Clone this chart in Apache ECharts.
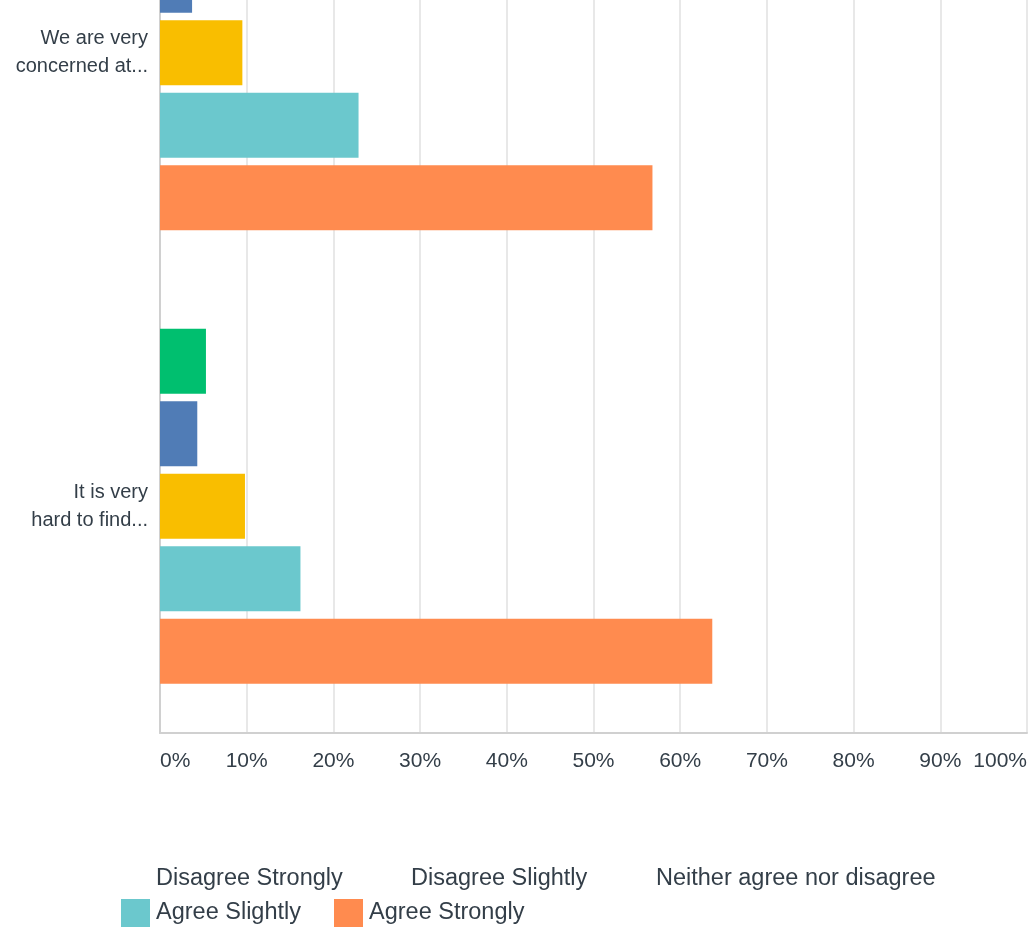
<!DOCTYPE html>
<html>
<head>
<meta charset="utf-8">
<script src="https://cdn.jsdelivr.net/npm/echarts@6/dist/echarts.min.js"></script>
<style>
  html, body { margin: 0; padding: 0; background: #fff; }
  #chart { width: 1029px; height: 928px; }
</style>
</head>
<body>
<div id="chart"></div>
<script>
// Survey statements (top to bottom)
const categories = ['We are very\nconcerned at...', 'It is very\nhard to find...'];

// Percentage of respondents per answer, one value per statement
const disagreeStrongly = [7.1, 5.3];
const disagreeSlightly = [3.7, 4.3];
const neitherAgree     = [9.5, 9.8];
const agreeSlightly    = [22.9, 16.2];
const agreeStrongly    = [56.8, 63.7];

const seriesNames = ['Disagree Strongly', 'Disagree Slightly', 'Neither agree nor disagree', 'Agree Slightly', 'Agree Strongly'];
const seriesValues = [disagreeStrongly, disagreeSlightly, neitherAgree, agreeSlightly, agreeStrongly];
const seriesColors = ['#00BF6F', '#507CB6', '#F9BE00', '#6BC8CD', '#FF8B4F'];

const xTicks = [0, 10, 20, 30, 40, 50, 60, 70, 80, 90, 100];

const textColor = '#333e48';
const fontFamily = '"Liberation Sans", Arial, Helvetica, sans-serif';

// Legend placement: the three disagree/neutral entries have no swatch, the agree entries do
const legendSlots = [
  { left: 121, top: 865, swatch: false },
  { left: 376, top: 865, swatch: false },
  { left: 621, top: 865, swatch: false },
  { left: 121, top: 899, swatch: true },
  { left: 334, top: 899, swatch: true }
];

const chart = echarts.init(document.getElementById('chart'), null, { renderer: 'canvas' });

chart.setOption({
  animation: false,
  backgroundColor: '#ffffff',
  grid: { left: 160, right: 2, top: -174, bottom: 195, containLabel: false, outerBoundsMode: 'none' },
  xAxis: {
    type: 'value',
    min: xTicks[0],
    max: xTicks[xTicks.length - 1],
    interval: 10,
    axisLine: { show: true, lineStyle: { color: '#d0d0d0', width: 2 } },
    axisTick: { show: false },
    splitLine: { show: true, lineStyle: { color: '#e8e8e8', width: 2 } },
    axisLabel: {
      formatter: v => v + '%',
      color: textColor,
      fontSize: 21,
      fontFamily: fontFamily,
      margin: 18,
      alignMinLabel: 'left',
      alignMaxLabel: 'right'
    }
  },
  yAxis: {
    type: 'category',
    inverse: true,
    data: categories,
    axisLine: { show: true, lineStyle: { color: '#d0d0d0', width: 2 } },
    axisTick: { show: false },
    axisLabel: {
      color: textColor,
      fontSize: 20,
      lineHeight: 28,
      fontFamily: fontFamily,
      margin: 12,
      align: 'right'
    }
  },
  legend: seriesNames.map((name, i) => ({
    data: [legendSlots[i].swatch ? name : { name: name, itemStyle: { color: 'rgba(0,0,0,0)' } }],
    left: legendSlots[i].left,
    top: legendSlots[i].top,
    itemWidth: 29,
    itemHeight: 28,
    icon: 'rect',
    padding: 0,
    textStyle: { color: textColor, fontSize: 23.5, fontFamily: fontFamily, padding: [0, 0, 0, 1] },
    selectedMode: false
  })),
  series: seriesNames.map((name, i) => ({
    name: name,
    type: 'bar',
    data: seriesValues[i],
    barWidth: 65,
    barGap: '11.5%',
    itemStyle: { color: seriesColors[i] }
  }))
});
</script>
</body>
</html>
